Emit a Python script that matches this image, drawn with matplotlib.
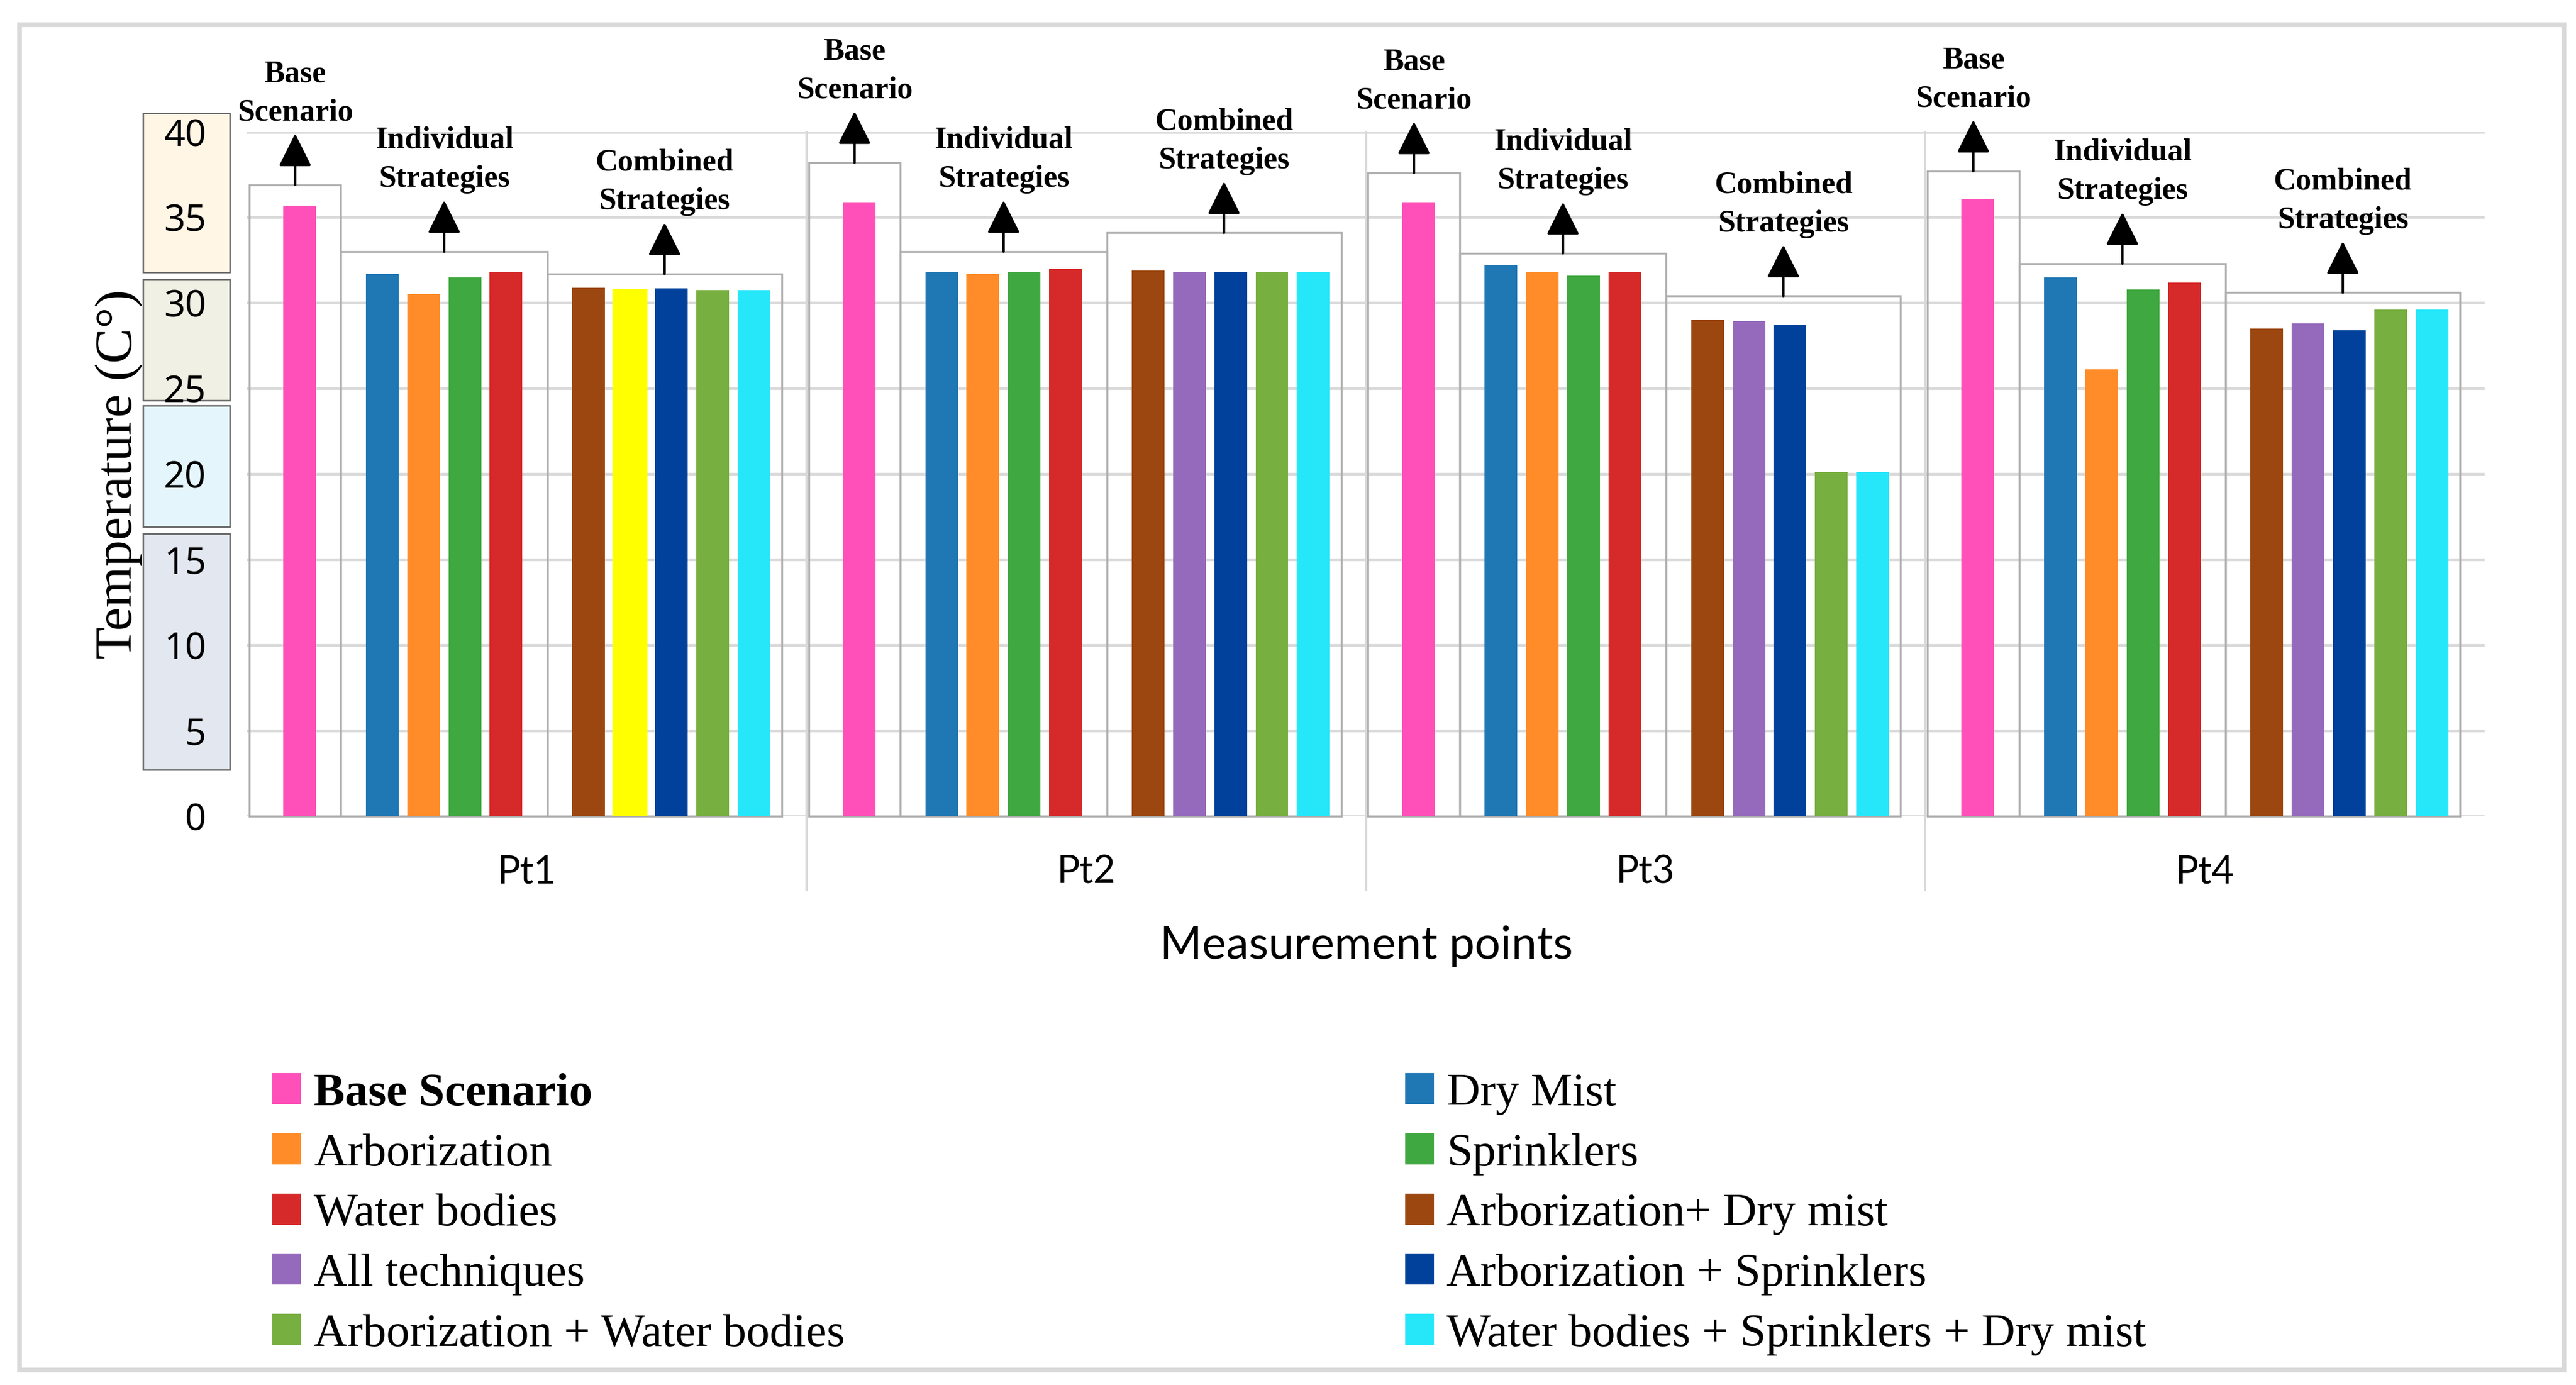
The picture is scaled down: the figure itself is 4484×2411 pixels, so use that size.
import numpy as np
import matplotlib.pyplot as plt
from matplotlib.patches import Rectangle, Patch

# data
points = ['Pt1', 'Pt2', 'Pt3', 'Pt4']
base_scenario = [35.7, 35.9, 35.9, 36.1]
dry_mist = [31.7, 31.8, 32.2, 31.5]
arborization = [30.5, 31.7, 31.8, 26.1]
sprinklers = [31.5, 31.8, 31.6, 30.8]
water_bodies = [31.8, 32.0, 31.8, 31.2]
arb_dry = [30.9, 31.9, 29.0, 28.5]
all_tech = [30.75, 31.8, 28.95, 28.8]
arb_spr = [30.85, 31.8, 28.75, 28.4]
arb_water = [30.75, 31.8, 20.1, 29.6]
water_spr_dry = [30.75, 31.8, 20.1, 29.6]

labels = ['Base Scenario', 'Dry Mist', 'Arborization', 'Sprinklers', 'Water bodies',
          'Arborization+ Dry mist', 'All techniques', 'Arborization + Sprinklers',
          'Arborization + Water bodies', 'Water bodies + Sprinklers + Dry mist']
values = [base_scenario, dry_mist, arborization, sprinklers, water_bodies,
          arb_dry, all_tech, arb_spr, arb_water, water_spr_dry]
colors = ['#FF4FB8', '#1F77B4', '#FF8C28', '#40A840', '#D62A2A',
          '#9C4710', '#9569BC', '#02419B', '#77AF40', '#26E7FA']
slots = [0, 2, 3, 4, 5, 7, 8, 9, 10, 11]

# annotation boxes (top of each frame) per point
box_base_top = [36.9, 38.2, 37.6, 37.7]
box_ind_top = [33.0, 33.0, 32.9, 32.3]
box_comb_top = [31.7, 34.1, 30.4, 30.6]

W, H = 4484, 2411
fig = plt.figure(figsize=(W / 300, H / 300), dpi=300)
ax = fig.add_axes([430 / W, 1 - 1420.6 / H, 3895 / W, 1191 / H])

pitch = 0.0738
bw = 0.0585
x = np.arange(len(points))
offs = [(s - 5.5) * pitch for s in slots]

bars = []
for lab, vals, col, off in zip(labels, values, colors, offs):
    b = ax.bar(x + off, vals, width=bw, color=col, label=lab, zorder=3)
    bars.append(b)
# Pt1 "All techniques" bar is yellow in the original
bars[6][0].set_color('#FFFF00')

ax.set_xlim(-0.5, len(points) - 0.5)
ax.set_ylim(0, 40)
ax.set_yticks(range(0, 41, 5))
ax.yaxis.grid(True, color='#D9D9D9', lw=1.1, zorder=0)
ax.set_axisbelow(True)
for s in ax.spines.values():
    s.set_visible(False)
ax.tick_params(length=0)
ax.tick_params(axis='y', pad=17, labelsize=15.5)
for t in ax.get_yticklabels():
    t.set_family('Noto Sans')
ax.set_xticks(x)
ax.set_xticklabels(points, family='Lato', fontsize=16)
ax.tick_params(axis='x', pad=16)

# category separators
for b in x[:-1] + 0.5:
    ax.plot([b, b], [40, -4.3], color='#D9D9D9', lw=1.0, clip_on=False, zorder=1)

# frames, arrows and group labels
arrow_len = 3.0
for i in x:
    xs = [i + o for o in offs]
    m1 = (xs[0] + xs[1]) / 2
    m2 = (xs[4] + xs[5]) / 2
    frames = [(xs[0] - 0.09, m1, box_base_top[i], 'Base\nScenario'),
              (m1, m2, box_ind_top[i], 'Individual\nStrategies'),
              (m2, xs[9] + 0.05, box_comb_top[i], 'Combined\nStrategies')]
    for x0, x1, top, txt in frames:
        ax.add_patch(Rectangle((x0, 0), x1 - x0, top, fill=False, ec='#AFAFAF',
                               lw=0.8, zorder=2, clip_on=False))
        cx = (x0 + x1) / 2
        ax.annotate('', xy=(cx, top + arrow_len), xytext=(cx, top),
                    arrowprops=dict(arrowstyle='-|>,head_length=1.2,head_width=0.6',
                                    color='black', lw=1.0, shrinkA=0, shrinkB=0),
                    annotation_clip=False, zorder=4)
        ax.text(cx, top + arrow_len + 2.35, txt, ha='center', va='center',
                family='Liberation Serif', fontweight='bold', fontsize=13,
                linespacing=1.45, clip_on=False)

# coloured panels behind the y tick labels
panels = [(31.8, 41.1, '#FFF6E6'), (24.3, 31.4, '#F0F1E4'),
          (16.9, 24.0, '#E4F5FC'), (2.7, 16.5, '#E3E7F0')]
for y0, y1, fc in panels:
    ax.add_patch(Rectangle((-0.0465, y0), 0.0388, y1 - y0, fc=fc, ec='#606060', lw=0.6,
                           transform=ax.get_yaxis_transform(), clip_on=False, zorder=0))

fig.text(207 / W, 1 - 825 / H, 'Temperature (C°)', rotation=90, ha='center', va='center',
         family='Liberation Serif', fontsize=22)
fig.text(2378 / W, 1 - 1647 / H, 'Measurement points', ha='center', va='center',
         family='Lato', fontsize=19)

# legend in two columns
left = [0, 2, 4, 6, 8]
right = [1, 3, 5, 7, 9]
common = dict(frameon=False, borderpad=0, borderaxespad=0, handlelength=0.565,
              handleheight=0.565, handletextpad=0.3, labelspacing=0.39,
              prop={'family': 'Liberation Serif', 'size': 19.5})
h = [Patch(color=c) for c in colors]
leg1 = fig.legend([h[k] for k in left], [labels[k] for k in left], loc='upper left',
                  bbox_to_anchor=(476 / W, 1 - 1868 / H), **common)
leg1.get_texts()[0].set_fontweight('bold')
leg2 = fig.legend([h[k] for k in right], [labels[k] for k in right], loc='upper left',
                  bbox_to_anchor=(2448 / W, 1 - 1868 / H), **common)

fig.add_artist(Rectangle((34 / W, 1 - 2385 / H), 4429 / W, 2342 / H, fill=False,
                         ec='#D9D9D9', lw=2, transform=fig.transFigure))

fig.savefig('out.png', dpi=300)
